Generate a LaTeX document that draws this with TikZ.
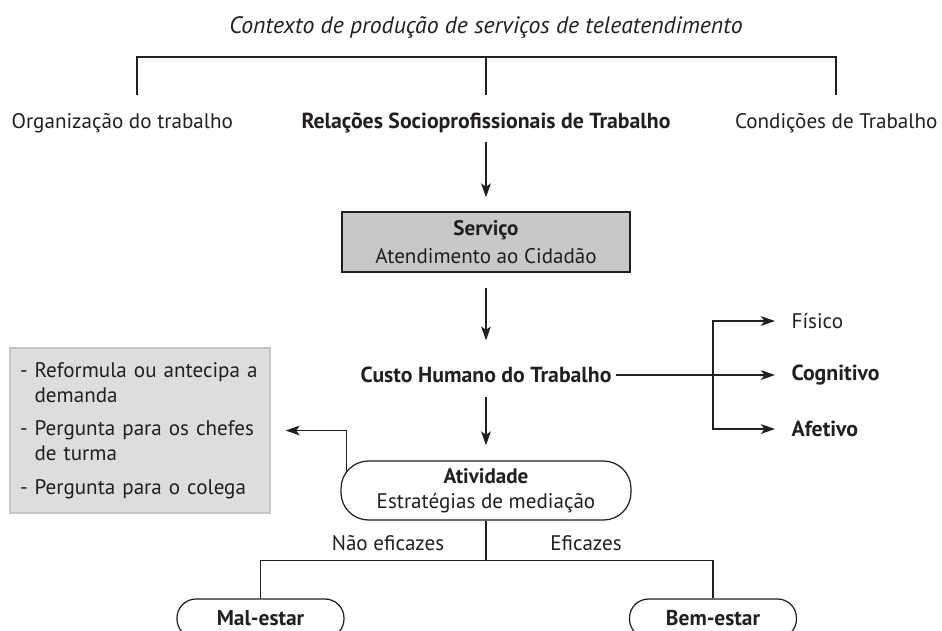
\documentclass[tikz,border=0pt]{standalone}
\usepackage{fontspec}
\setmainfont{PT Sans}
\usetikzlibrary{arrows.meta}

\definecolor{tinta}{HTML}{231F20}
\definecolor{cinzaescuro}{HTML}{C8C8C8}
\definecolor{cinzaclaro}{HTML}{DCDDDF}
\definecolor{bordaclara}{HTML}{C2C3C5}

\begin{document}
\begin{tikzpicture}[
        line width=0.7pt, draw=tinta, text=tinta,
        seta/.style={-{Stealth[length=8pt,width=5.5pt,inset=2pt]}},
        rotulo/.style={inner sep=2pt, font=\fontsize{12}{14}\selectfont},
        negrito/.style={font=\bfseries\fontsize{12.4}{14}\selectfont},
        ramo/.style={rotulo, anchor=west, inner xsep=0.32cm},
        caixa/.style={draw=tinta, fill=cinzaescuro, minimum width=5.76cm, minimum height=1.2cm,
            align=center, font=\fontsize{12}{16}\selectfont},
        oval/.style={draw=tinta, fill=white, rounded corners=0.55cm, minimum width=5.8cm,
            minimum height=1.18cm, align=center, font=\fontsize{12}{14.5}\selectfont},
        pilula/.style={draw=tinta, fill=white, rounded corners=0.38cm, minimum width=3.34cm,
            minimum height=0.78cm, font=\bfseries\fontsize{12.2}{14}\selectfont}
    ]
    \useasboundingbox (0,0) rectangle (18.84,-12.6);

    % Contexto
    \node[rotulo, font=\itshape\fontsize{13.5}{15}\selectfont] (ctx) at (9.72,-0.56)
        {Contexto de produção de serviços de teleatendimento};
    \coordinate (barL) at (2.74,-1.14);
    \coordinate (barM) at (9.72,-1.14);
    \coordinate (barR) at (16.72,-1.14);
    \draw ([yshift=-0.76cm]barL) -- (barL) -- (barR) -- ([yshift=-0.76cm]barR);
    \draw (barM) -- ([yshift=-0.76cm]barM);

    \node[rotulo, anchor=west] (org) at (0.15,-2.46) {Organização do trabalho};
    \node[rotulo, negrito] (rel) at (9.72,-2.46) {Relações Socioprofissionais de Trabalho};
    \node[rotulo, anchor=east] (cond) at (18.83,-2.46) {Condições de Trabalho};

    % Serviço
    \node[caixa] (serv) at (9.72,-4.84) {\textbf{Serviço}\\Atendimento ao Cidadão};
    \draw[seta, shorten <=0.1cm, shorten >=0.28cm] (rel.south) -- (serv.north);

    % Custo humano
    \node[rotulo, negrito] (custo) at (9.72,-7.5) {Custo Humano do Trabalho};
    \draw[seta, shorten <=0.3cm, shorten >=0.45cm] (serv.south) -- (custo.north);

    \node[ramo] (fis) at (15.5,-6.42) {Físico};
    \node[ramo, negrito] (cog) at (15.5,-7.5) {Cognitivo};
    \node[ramo, negrito] (afe) at (15.5,-8.58) {Afetivo};
    \coordinate (split) at (14.26,-7.5);
    \draw[seta] (custo.east) -- (cog.west);
    \draw[seta] (split) |- (fis.west);
    \draw[seta] (split) |- (afe.west);

    % Estrategias
    \node[draw=bordaclara, fill=cinzaclaro, minimum width=5.2cm, minimum height=3.3cm,
        text width=4.8cm, align=left, font=\fontsize{12}{14.2}\selectfont] (acoes) at (2.8,-8.61)
        {- Reformula ou antecipa a\\\hphantom{- }demanda\\[5pt]
         - Pergunta para os chefes\\\hphantom{- }de turma\\[5pt]
         - Pergunta para o colega};
    \coordinate (tap) at (6.93,-9.55);
    \draw[seta, shorten >=0.3cm] (tap) |- (acoes.east);

    % Atividade
    \node[oval] (atv) at (9.72,-9.81) {\textbf{Atividade}\\Estratégias de mediação};
    \draw[seta, shorten <=0.2cm, shorten >=0.3cm] (custo.south) -- (atv.north);

    % Resultados
    \draw (atv.south) -- ++(0,-0.8) coordinate (bif);
    \node[pilula] (mal) at (5.21,-12.37) {Mal-estar};
    \node[pilula] (bem) at (14.26,-12.37) {Bem-estar};
    \draw (mal.north) |- (bif) -| (bem.north);
    \node[rotulo] (naoef) at (7.76,-10.86) {Não eficazes};
    \node[rotulo] (ef) at (11.72,-10.86) {Eficazes};
\end{tikzpicture}
\end{document}
